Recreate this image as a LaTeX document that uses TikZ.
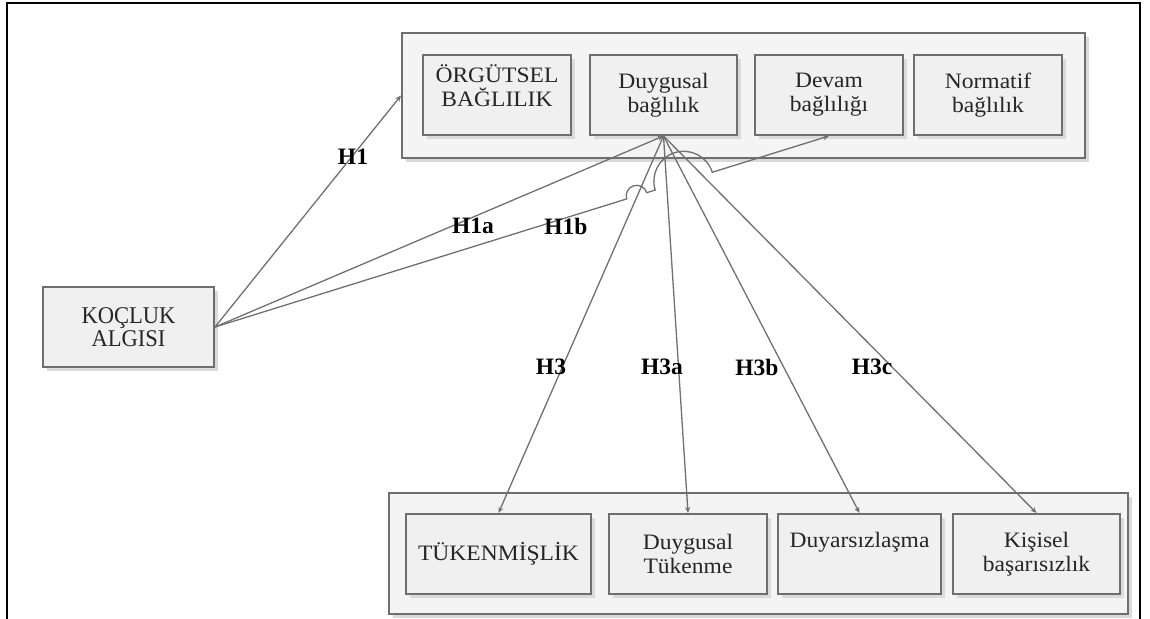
\documentclass[tikz,border=0pt]{standalone}
\usepackage{fontspec}
\setmainfont{Liberation Serif}[FakeStretch=1.07]
\newfontfamily\lblfont{Liberation Serif}
\newfontfamily\kocfont{Liberation Serif}[FakeStretch=0.94]
\usetikzlibrary{arrows.meta,calc,shadows}

\definecolor{edge}{HTML}{6E6E6E}
\definecolor{wire}{HTML}{707070}
\definecolor{panel}{HTML}{F4F4F4}
\definecolor{cell}{HTML}{F0F0F0}
\definecolor{shade}{HTML}{DADADA}
\definecolor{ink}{HTML}{262626}

\begin{document}
\begin{tikzpicture}[x=0.5pt,y=-0.5pt,
  panelbox/.style={draw=edge, line width=1pt, fill=panel, inner sep=0pt,
    general shadow={fill=shade, shadow xshift=2pt, shadow yshift=-2pt}},
  cellbox/.style={draw=edge, line width=1pt, fill=cell, inner sep=0pt,
    minimum height=40pt, text=ink, align=center,
    font=\fontsize{11pt}{12pt}\selectfont,
    general shadow={fill=shade, shadow xshift=2pt, shadow yshift=-2pt}},
  celltext/.style={inner sep=0pt, text=ink, align=center,
    font=\fontsize{11pt}{12pt}\selectfont},
  conn/.style={draw=wire, line width=0.65pt, -{Stealth[length=3pt,width=2.6pt]}},
  hlabel/.style={inner sep=0pt, font=\lblfont\bfseries\fontsize{11.75pt}{13pt}\selectfont}
]
\useasboundingbox (0,0) rectangle (1150,619);

% outer frame, open at the bottom
\draw[line width=1.4pt] (7,630) -- (7,3) -- (1140,3) -- (1140,630);

% commitment panel
\node[panelbox, minimum width=341.5pt, minimum height=62.5pt] (topp) at (743.5,95.5) {};
\node[cellbox, minimum width=74pt] (org) at (497,95) {};
\node[celltext] (orgt) at (497,86) {ÖRGÜTSEL\\BAĞLILIK};
\node[cellbox, minimum width=73.5pt] (duy) at (663.5,95) {Duygusal\\bağlılık};
\node[cellbox, minimum width=74pt] (dev) at (829,95) {Devam\\bağlılığı};
\node[cellbox, minimum width=74pt] (nor) at (988,95) {Normatif\\bağlılık};

% coaching box
\node[cellbox, minimum width=85.5pt,
      font=\kocfont\fontsize{12pt}{10.2pt}\selectfont] (koc) at (128.5,327) {KOÇLUK\\ALGISI};

% burnout panel
\node[panelbox, minimum width=369.5pt, minimum height=60.5pt] (botp) at (758.5,553.5) {};
\node[cellbox, minimum width=92.5pt] (tuk) at (498.5,554) {TÜKENMİŞLİK};
\node[cellbox, minimum width=79pt] (dtk) at (688,554) {Duygusal\\Tükenme};
\node[cellbox, minimum width=81.5pt] (dys) at (859.5,554) {};
\node[celltext] (dyst) at (859.5,542) {Duyarsızlaşma};
\node[cellbox, minimum width=83.5pt] (kis) at (1036.5,554) {Kişisel\\başarısızlık};

% connectors from coaching perception
\draw[conn] (koc.east) -- (topp.west);
\draw[conn] (koc.east) -- (duy.south);
\draw[conn] (koc.east)
  -- ($(koc.east)!0.6705!(dev.south)$)
  arc[start angle=162.66, end angle=342.66, radius=10.5]
  -- ($(koc.east)!0.717!(dev.south)$)
  arc[start angle=162.66, end angle=342.66, radius=29.85]
  -- (dev.south);

% connectors to burnout dimensions
\draw[conn] (duy.south) -- (tuk.north);
\draw[conn] (duy.south) -- (dtk.north);
\draw[conn] (duy.south) -- (dys.north);
\draw[conn] (duy.south) -- (kis.north);

% hypothesis labels
\node[hlabel] (h1)  at (353,157) {H1};
\node[hlabel] (h1a) at (473,226) {H1a};
\node[hlabel] (h1b) at (566,226) {H1b};
\node[hlabel] (h3)  at (551,367) {H3};
\node[hlabel] (h3a) at (662,367) {H3a};
\node[hlabel] (h3b) at (757,367) {H3b};
\node[hlabel] (h3c) at (872,367) {H3c};
\end{tikzpicture}
\end{document}
